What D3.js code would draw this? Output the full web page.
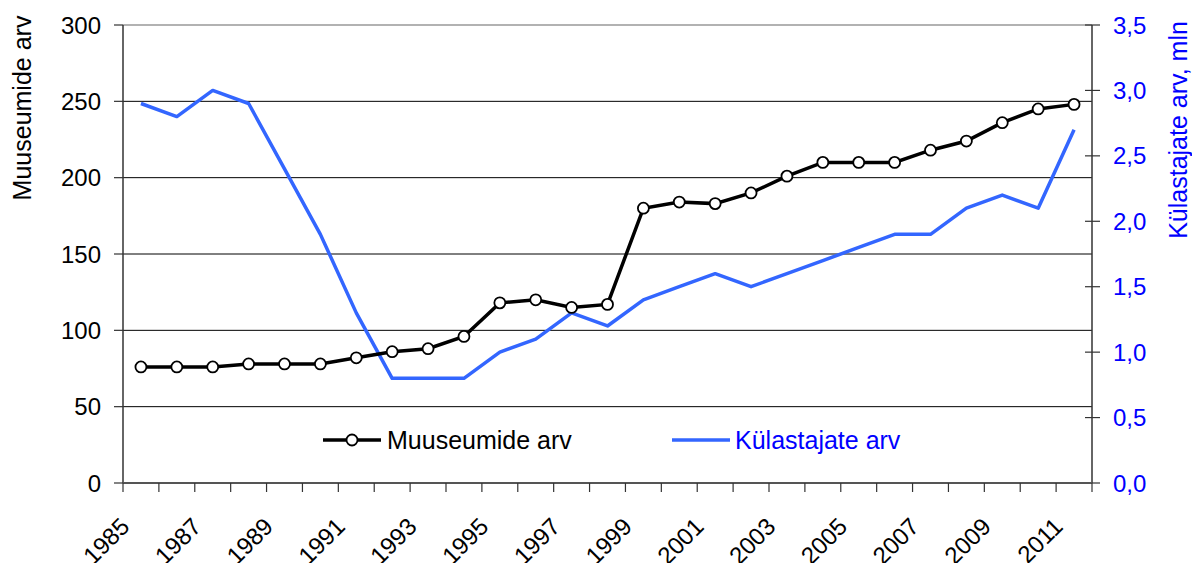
<!DOCTYPE html>
<html>
<head>
<meta charset="utf-8">
<script src="https://cdn.jsdelivr.net/npm/d3@7"></script>
<style>
body { margin: 0; background: #fff; }
text { font-family: "Liberation Sans", Arial, sans-serif; }
</style>
</head>
<body>
<script>
// data
var years = [1985,1986,1987,1988,1989,1990,1991,1992,1993,1994,1995,1996,1997,1998,1999,2000,2001,2002,2003,2004,2005,2006,2007,2008,2009,2010,2011];
var museums = [76,76,76,78,78,78,82,86,88,96,118,120,115,117,180,184,183,190,201,210,210,210,218,224,236,245,248];
var visitors = [2.9,2.8,3.0,2.9,2.4,1.9,1.3,0.8,0.8,0.8,1.0,1.1,1.3,1.2,1.4,1.5,1.6,1.5,1.6,1.7,1.8,1.9,1.9,2.1,2.2,2.1,2.7];
var leftTicks = [0,50,100,150,200,250,300];
var rightTicks = [0,0.5,1,1.5,2,2.5,3,3.5];
var yearLabels = [1985,1987,1989,1991,1993,1995,1997,1999,2001,2003,2005,2007,2009,2011];

var svg = d3.select("body").append("svg");
svg.attr("width", 1192);
svg.attr("height", 563);

// plot area (note: "top" is taken by window.top, so use own names)
var pLeft = 123, pRight = 1092, pTop = 25, pBottom = 483;
var blue = "#3366ff";

var x = d3.scaleBand().domain(years).range([pLeft, pRight]).padding(0);
var yL = d3.scaleLinear().domain([0, 300]).range([pBottom, pTop]);
var yR = d3.scaleLinear().domain([0, 3.5]).range([pBottom, pTop]);
var cx = function(yr){ return x(yr) + x.bandwidth() / 2; };

var add_line = function(color, w, x1, y1, x2, y2){
    svg.append("line").style("stroke", color).style("stroke-width", w)
        .attr("x1", x1).attr("x2", x2).attr("y1", y1).attr("y2", y2);
};

// gridlines
leftTicks.forEach(function(t){
    if (t === 0 || t === 300) return;
    add_line("#000", 1, pLeft, yL(t), pRight, yL(t));
});
// plot border top
add_line("#999", 1.5, pLeft, yL(300), pRight, yL(300));

// left axis
add_line("#333", 1.5, pLeft, pTop, pLeft, pBottom);
leftTicks.forEach(function(t){
    add_line("#333", 1.2, pLeft - 9, yL(t), pLeft, yL(t));
    svg.append("text").attr("x", 101).attr("y", yL(t)).attr("dy", "0.36em")
        .attr("text-anchor", "end").style("font-size", "24px").style("fill", "#000")
        .text(t);
});

// right axis
add_line("#333", 1.5, pRight, pTop, pRight, pBottom);
rightTicks.forEach(function(t){
    add_line("#333", 1.2, pRight - 7, yR(t), pRight + 8, yR(t));
    svg.append("text").attr("x", 1113).attr("y", yR(t)).attr("dy", "0.36em")
        .style("font-size", "24px").style("fill", "#0000ff")
        .text(d3.format(".1f")(t).replace(".", ","));
});

// bottom axis
add_line("#555", 2, pLeft, pBottom, pRight, pBottom);
years.concat([2012]).forEach(function(yr, i){
    var px = i < years.length ? x(yr) : pRight;
    add_line("#333", 1.2, px, pBottom, px, pBottom + 9);
});
yearLabels.forEach(function(yr){
    svg.append("text")
        .attr("transform", "translate(" + (x(yr) + 8) + ",528) rotate(-45)")
        .attr("text-anchor", "end").style("font-size", "24px").style("fill", "#000")
        .text(yr);
});

// axis titles
svg.append("text").attr("transform", "translate(31,108) rotate(-90)")
    .attr("text-anchor", "middle").style("font-size", "25px").style("fill", "#000")
    .text("Muuseumide arv");
svg.append("text").attr("transform", "translate(1187,130) rotate(-90)")
    .attr("text-anchor", "middle").style("font-size", "25px").style("fill", "#0000ff")
    .text("Külastajate arv, mln");

// visitors line
var lineR = d3.line().x(function(d, i){ return cx(years[i]); }).y(function(d){ return yR(d); });
svg.append("path").datum(visitors).attr("d", lineR)
    .style("fill", "none").style("stroke", blue).style("stroke-width", 3.5)
    .style("stroke-linejoin", "round");

// museums line
var lineL = d3.line().x(function(d, i){ return cx(years[i]); }).y(function(d){ return yL(d); });
svg.append("path").datum(museums).attr("d", lineL)
    .style("fill", "none").style("stroke", "#000").style("stroke-width", 3.5);
svg.selectAll("circle.m").data(museums).enter().append("circle")
    .attr("class", "m")
    .attr("cx", function(d, i){ return cx(years[i]); })
    .attr("cy", function(d){ return yL(d); })
    .attr("r", 5.5)
    .style("fill", "#fff").style("stroke", "#000").style("stroke-width", 1.8);

// legend
add_line("#000", 3.5, 323, 440, 381, 440);
svg.append("circle").attr("cx", 352).attr("cy", 440).attr("r", 5.5)
    .style("fill", "#fff").style("stroke", "#000").style("stroke-width", 1.8);
svg.append("text").attr("x", 387).attr("y", 449).style("font-size", "25px").style("fill", "#000")
    .text("Muuseumide arv");
add_line(blue, 3.5, 672, 440, 730, 440);
svg.append("text").attr("x", 735).attr("y", 449).style("font-size", "25px").style("fill", "#0000ff")
    .text("Külastajate arv");
</script>
</body>
</html>
